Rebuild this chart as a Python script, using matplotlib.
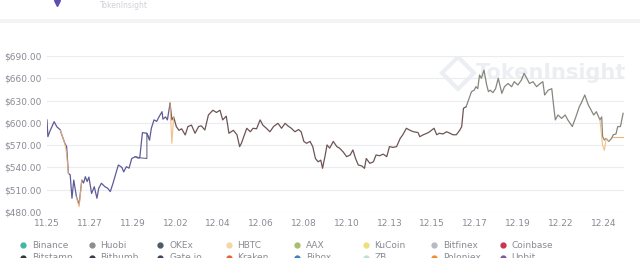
import numpy as np
import matplotlib.pyplot as plt
from matplotlib.lines import Line2D
from matplotlib.patches import Rectangle

# hours since 11.25 00:00 and price (USD)
hours = [0, 1, 3, 8, 11, 15, 16, 20, 22, 24, 26, 28, 30, 33, 36, 39, 41, 43, 45, 47,
         50, 53, 56, 58, 61, 65, 68, 71, 74, 80, 84, 86, 89, 92, 95, 99, 102, 104, 107, 112,
         115, 117, 120, 123, 126, 129, 130, 133, 135, 138, 140, 142, 145, 148, 151, 155, 158, 162, 166, 170,
         173, 177, 181, 186, 190, 194, 197, 201, 204, 209, 213, 216, 218, 224, 228, 231, 235, 239, 242, 246,
         250, 254, 259, 263, 267, 270, 274, 278, 282, 285, 288, 291, 295, 298, 301, 304, 307, 309, 312, 314,
         317, 321, 325, 328, 332, 336, 340, 343, 346, 349, 353, 356, 358, 362, 366, 369, 373, 377, 381, 384,
         388, 392, 396, 399, 403, 407, 411, 416, 418, 422, 426, 429, 434, 437, 440, 444, 448, 452, 455, 459,
         463, 465, 467, 470, 472, 476, 479, 481, 483, 485, 487, 490, 493, 495, 497, 500, 503, 506, 510, 513,
         517, 521, 524, 528, 532, 535, 538, 541, 545, 549, 553, 556, 558, 562, 566, 568, 570, 573, 577, 581,
         584, 589, 593, 597, 599, 603, 607, 610, 613, 616, 620, 622, 623, 625, 627, 630, 633, 635, 638, 640,
         643, 646]
price = [603.9, 581.4, 588, 601.6, 594.8, 590.4, 586, 572.5, 568, 532, 530, 498.5, 523, 500.6, 490, 523, 519, 527.5, 521, 527,
         505, 514, 498.5, 512, 518.7, 514, 512, 507.5, 518.6, 543.3, 540, 534, 541, 539, 552, 554.5, 552.6, 553, 586.8, 586,
         577, 592.7, 604, 602, 609, 615, 605, 608, 604, 626.3, 604, 608, 595, 590, 592, 583.7, 595, 597, 586, 595,
         596, 590.4, 610.6, 617, 614, 617, 604, 609, 586, 590, 584, 568, 572.5, 592.7, 588, 592.7, 592, 604, 597, 592.7,
         588, 595, 599.4, 592.7, 599.4, 596, 592.7, 588, 591, 588, 575, 572.5, 575, 568, 552, 547.6, 549.8, 538.8, 556.8, 570.3,
         566, 575, 568, 566, 561, 554.5, 556.8, 563.5, 552, 543.3, 542, 538.8, 552, 545.5, 547.6, 556.8, 555.7, 557.9, 554.5, 568,
         567, 568, 579, 584, 592.7, 590, 588, 587, 581.4, 584, 586, 588, 592.7, 584, 586, 585, 588, 586, 584, 584,
         590.4, 595, 619.6, 621.8, 628.5, 642, 644, 648.7, 646, 664.4, 660, 671, 651, 642, 644, 640.7, 646, 660, 639.7, 648.7,
         653, 648.7, 655.4, 651, 657.6, 666.7, 660, 653, 655.4, 648.7, 653, 655.4, 637.5, 644, 646, 624, 604, 610.6, 606, 610.6,
         604, 595, 608, 622, 626.5, 637.5, 624, 617.4, 610.6, 615, 604, 608, 581.4, 577, 579, 575, 579, 584, 585, 595,
         595, 612.8]

# HBTC spikes (orange), nan = no quote
hbtc_hours = [15, 20, 22, 24, 25, 33, 36, 39, 40, 138, 140, 142, 143, 620, 623, 625, 627, 630]
hbtc_price = [590, 572, 559, 532, np.nan, 500, 487, 523, np.nan, 626, 572.5, 608, np.nan, 604, 570, 563, 579, 576]
# exchange with a gap (flat step)
okex_hours = [99, 104, 112, 112, 115]
okex_price = [554.5, 553, 552, 586, 577]
# late flat quote
kucoin_hours = [634, 646]
kucoin_price = [581.4, 581.4]

tick_hours = [0, 48, 96, 144, 192, 240, 288, 336, 384, 432, 480, 528, 576, 624]
tick_labels = ['11.25', '11.27', '11.29', '12.02', '12.04', '12.06', '12.08', '12.10',
               '12.13', '12.15', '12.17', '12.19', '12.22', '12.24']
y_ticks = [480, 510, 540, 570, 600, 630, 660, 690]

legend_names = ['Binance', 'Huobi', 'OKEx', 'HBTC', 'AAX', 'KuCoin', 'Bitfinex', 'Coinbase']
legend_colors = ['#3fb8a4', '#8d8d8d', '#4c5a6a', '#f5d6a8', '#a8bf6a', '#f0e07a', '#b9b9c2', '#c8344f']
legend2_names = ['Bitstamp', 'Bithumb', 'Gate.io', 'Kraken', 'Bibox', 'ZB', 'Poloniex', 'Upbit']
legend2_colors = ['#2f3640', '#3a3a4a', '#4a3c5c', '#e8603c', '#3b7fc4', '#b8e0e0', '#f08c2c', '#7a5a9a']

fig = plt.figure(figsize=(6.4, 2.58), dpi=100)
fig.patch.set_facecolor('white')

# page chrome: header card and separator band
fig.add_artist(Rectangle((0, 1 - 23 / 258), 1, 4 / 258, transform=fig.transFigure,
                         facecolor='#f4f4f7', edgecolor='none'))
fig.add_artist(Line2D([57 / 640], [1 - 3 / 258], marker='v', markersize=5, color='#5b4fb0',
                      transform=fig.transFigure))
fig.text(100 / 640, 1 - 10 / 258, 'TokenInsight', fontsize=5.5, color='#d0d0d8', va='bottom')

ax = fig.add_axes([47 / 640, 1 - 212 / 258, 577 / 640, 156 / 258])
ax.set_facecolor('white')

# watermark
ax.text(0.873, 0.888, 'TokenInsight', transform=ax.transAxes, fontsize=15, fontweight='bold',
        color='#eceef3', ha='center', va='center', zorder=0)
ax.plot([0.713], [0.89], marker='D', markersize=16, markerfacecolor='none',
        markeredgecolor='#eceef3', markeredgewidth=3, transform=ax.transAxes, zorder=0)

# main line, coloured by which exchange sits on top
ax.plot(hours[:50], price[:50], color='#5d5b98', lw=0.9, zorder=3)
ax.plot(hours[49:144], price[49:144], color='#6e5555', lw=0.9, zorder=3)
ax.plot(hours[143:], price[143:], color='#86867e', lw=0.9, zorder=3)
ax.plot(okex_hours, okex_price, color='#6a6a90', lw=0.8, zorder=2)
ax.plot(hbtc_hours, hbtc_price, color='#f2b474', lw=0.8, zorder=4, alpha=0.85)
ax.plot(kucoin_hours, kucoin_price, color='#f2b474', lw=0.8, zorder=2)

ax.set_xlim(0, 647)
ax.set_ylim(480, 690)
ax.set_yticks(y_ticks)
ax.set_yticklabels(['$%.2f' % v for v in y_ticks])
ax.set_xticks(tick_hours)
ax.set_xticklabels(tick_labels)
ax.grid(axis='y', color='#ececf0', lw=0.8)
ax.set_axisbelow(True)
for s in ax.spines.values():
    s.set_visible(False)
ax.tick_params(axis='both', length=0, labelsize=6.5, labelcolor='#8a8a96')
ax.tick_params(axis='x', pad=5)
ax.tick_params(axis='y', pad=4)

# legend rows (second row runs off the bottom, as in the source)
for i, (n, c) in enumerate(zip(legend_names, legend_colors)):
    x = (23 + i * 68.5) / 640
    fig.add_artist(Line2D([x], [1 - 245 / 258], marker='o', markersize=3.5, color=c,
                          transform=fig.transFigure))
    fig.text(x + 9 / 640, 1 - 245 / 258, n, fontsize=6.5, color='#8a8a96', va='center')
for i, (n, c) in enumerate(zip(legend2_names, legend2_colors)):
    x = (23 + i * 68.5) / 640
    fig.add_artist(Line2D([x], [1 - 258 / 258], marker='o', markersize=3.5, color=c,
                          transform=fig.transFigure))
    fig.text(x + 9 / 640, 1 - 258 / 258, n, fontsize=6.5, color='#8a8a96', va='center')

fig.savefig('out.png', dpi=100, facecolor='white')
